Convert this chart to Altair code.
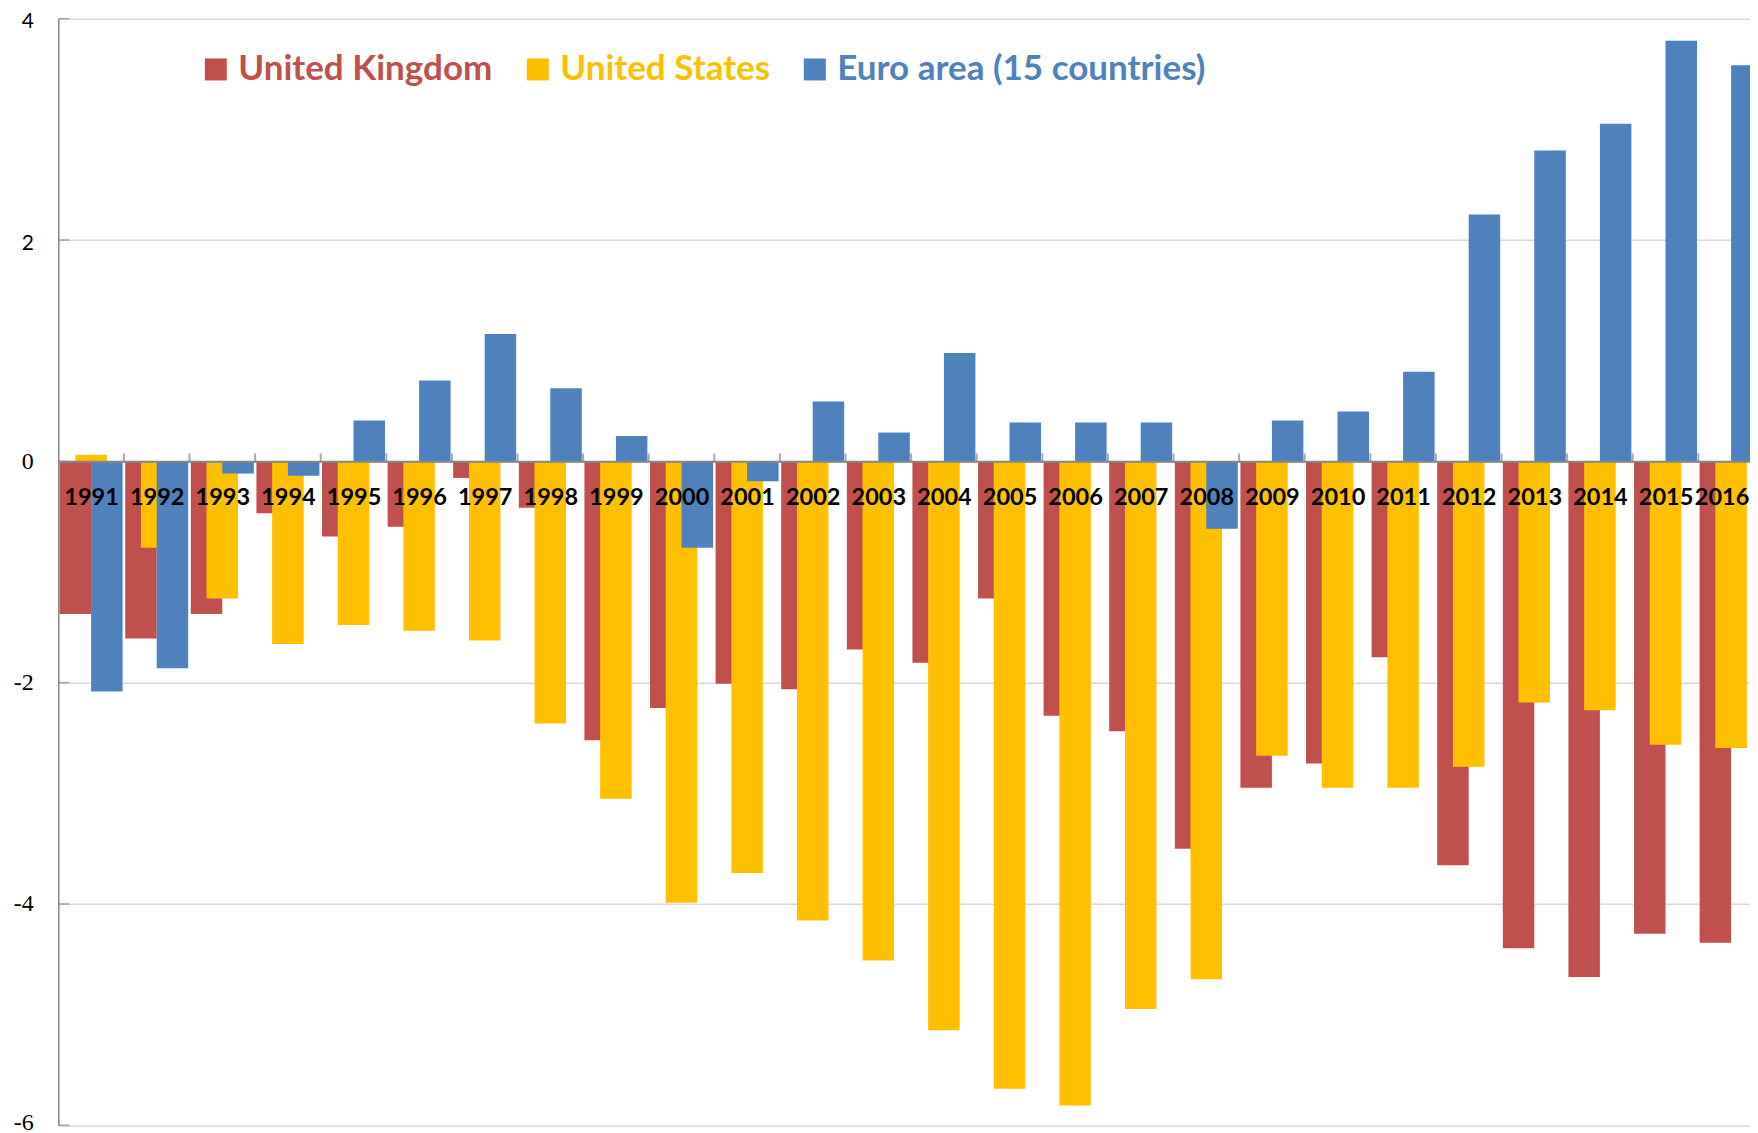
import altair as alt
import pandas as pd

# ---------------- data ----------------
years = list(range(1991, 2017))
uk = [-1.38, -1.60, -1.38, -0.47, -0.68, -0.59, -0.15, -0.42, -2.52, -2.23,
      -2.01, -2.06, -1.70, -1.82, -1.24, -2.30, -2.44, -3.50, -2.95, -2.73,
      -1.77, -3.65, -4.40, -4.66, -4.27, -4.35]
us = [0.06, -0.78, -1.24, -1.65, -1.48, -1.53, -1.62, -2.37, -3.05, -3.99,
      -3.72, -4.15, -4.51, -5.14, -5.67, -5.82, -4.95, -4.68, -2.66, -2.95,
      -2.95, -2.76, -2.18, -2.25, -2.56, -2.59]
euro = [-2.08, -1.87, -0.11, -0.13, 0.37, 0.73, 1.15, 0.66, 0.23, -0.78,
        -0.18, 0.54, 0.26, 0.98, 0.35, 0.35, 0.35, -0.61, 0.37, 0.45,
        0.81, 2.23, 2.81, 3.05, 3.80, 3.58]
series_names = ["United Kingdom", "United States", "Euro area (15 countries)"]
series_colors = ["#C0504D", "#FFC000", "#4F81BD"]
y_ticks = [4, 2, 0, -2, -4, -6]

# ---------------- layout ----------------
BAND_PX = 65.6          # pixel width of one year category
PAD_LEFT = 50.3
SVG_W = 1742            # keep the page inside the window width
PLOT_W = SVG_W - PAD_LEFT
PLOT_H = 1106.6
BAR_W = 0.48            # bar width as a fraction of a category
STEP = 0.24             # shift between the overlapping series
LEAD = 0.02             # gap before the first bar in a category
Y_MIN, Y_MAX = -6, 4

rows = []
for k, (name, vals) in enumerate(zip(series_names, [uk, us, euro])):
    for yr, v in zip(years, vals):
        x0 = yr - 0.5 + LEAD + k * STEP
        rows.append({"year": yr, "series": name, "value": v,
                     "x0": x0, "x1": x0 + BAR_W, "base": 0.0})
bars_df = pd.DataFrame(rows)
bounds_df = pd.DataFrame({"b": [y + 0.5 for y in years[:-1]]})
yt_df = pd.DataFrame({"t": y_ticks})

# the chart is cut at the right edge, as in the original picture
xs = alt.Scale(domain=[years[0] - 0.5, years[0] - 0.5 + PLOT_W / BAND_PX], nice=False, zero=False)
ys = alt.Scale(domain=[Y_MIN, Y_MAX], nice=False, zero=False)

zero_from_bottom = PLOT_H * (0 - Y_MIN) / (Y_MAX - Y_MIN)

label_color_expr = (
    f"datum.label === '{series_names[0]}' ? '{series_colors[0]}' : "
    f"datum.label === '{series_names[1]}' ? '{series_colors[1]}' : '{series_colors[2]}'"
)

x_axis = alt.Axis(
    values=years, title=None, orient="bottom", offset=-zero_from_bottom,
    grid=False, ticks=False, tickSize=0,
    domainColor="#868686", domainWidth=2,
    labelExpr="'' + datum.value", labelFont="Lato", labelFontWeight="bold",
    labelFontSize=23.5, labelColor="#000000", labelPadding=36, labelBaseline="middle",
    labelOffset={"condition": {"test": f"datum.value == {years[-1]}", "value": -9.5}, "value": 0},
    labelOverlap=False, labelFlush=False, zindex=1,
)
y_axis = alt.Axis(
    values=y_ticks, title=None, orient="left",
    grid=True, gridColor="#D9D9D9", gridWidth=1.5,
    ticks=False, tickSize=0,
    domainColor="#868686", domainWidth=1.5,
    labelExpr="'' + datum.value",
    labelFont={"condition": {"test": "datum.value > 0", "value": "Lato"}, "value": "Liberation Serif"},
    labelFontSize={"condition": {"test": "datum.value > 0", "value": 21}, "value": 24},
    labelOffset={"condition": [
        {"test": "datum.value > 0", "value": 3},
        {"test": f"datum.value == {Y_MIN}", "value": -3},
    ], "value": 0},
    labelColor="#000000", labelPadding=25, zindex=0,
)

bars = alt.Chart(bars_df).mark_rect(clip=True).encode(
    x=alt.X("x0:Q", scale=xs, axis=x_axis),
    x2="x1:Q",
    y=alt.Y("value:Q", scale=ys, axis=y_axis),
    y2="base:Q",
    color=alt.Color(
        "series:N",
        scale=alt.Scale(domain=series_names, range=series_colors),
        legend=alt.Legend(
            orient="none", legendX=140, legendY=33, direction="horizontal",
            title=None, symbolType="square", symbolSize=484, symbolStrokeWidth=0,
            labelFont="Lato", labelFontWeight="bold", labelFontSize=35,
            labelColor=alt.ExprRef(expr=label_color_expr),
            labelOffset=5, columnPadding=27, padding=0, labelLimit=0,
        ),
    ),
)

# small category tick marks pointing up from the zero line
xticks = alt.Chart(bounds_df).mark_tick(
    orient="vertical", size=8, thickness=2, yOffset=-4, color="#868686"
).encode(
    x=alt.X("b:Q", scale=xs, axis=x_axis),
    y=alt.YDatum(0, axis=y_axis),
)

# inside tick marks on the value axis
yticks = alt.Chart(yt_df).mark_tick(
    orient="horizontal", size=11, thickness=1.5, xOffset=5.5, color="#868686"
).encode(
    x=alt.value(0),
    y=alt.Y("t:Q", scale=ys, axis=y_axis),
)

chart = alt.layer(bars, xticks, yticks).properties(
    width=PLOT_W,
    height=PLOT_H,
    padding={"left": PAD_LEFT, "top": 10.7, "right": 0, "bottom": 12},
    autosize=alt.AutoSizeParams(type="none"),
    background="#FFFFFF",
).configure_view(strokeWidth=0)

chart.save("out.html", embed_options={"renderer": "svg", "actions": False})
